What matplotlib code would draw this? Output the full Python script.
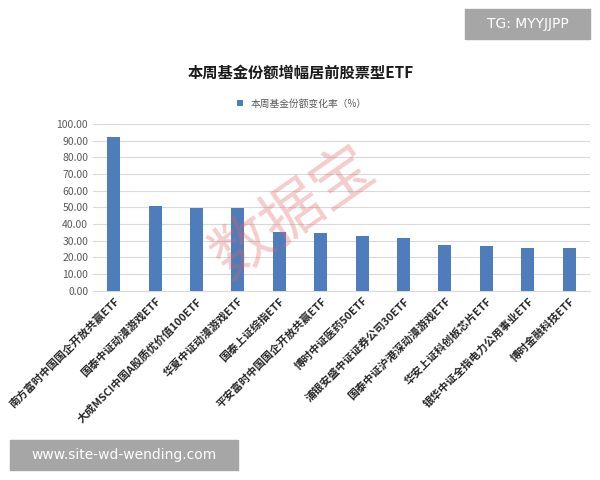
import numpy as np
import matplotlib.pyplot as plt
from matplotlib.patches import Rectangle

plt.rcParams['font.family'] = ['Noto Sans CJK SC', 'DejaVu Sans']

# 本周基金份额变化率 (%)
funds = ['南方富时中国国企开放共赢ETF', '国泰中证动漫游戏ETF', '大成MSCI中国A股质优价值100ETF',
         '华夏中证动漫游戏ETF', '国泰上证综指ETF', '平安富时中国国企开放共赢ETF',
         '博时中证医药50ETF', '浦银安盛中证证券公司30ETF', '国泰中证沪港深动漫游戏ETF',
         '华安上证科创板芯片ETF', '银华中证全指电力公用事业ETF', '博时金融科技ETF']
change = [92.2, 51.0, 49.8, 49.4, 35.4, 34.5, 32.6, 31.9, 27.4, 27.0, 25.6, 25.5]
yticks = np.arange(0, 101, 10)

fig = plt.figure(figsize=(6, 4.8), dpi=100)
ax = fig.add_axes([0.155, 0.394, 0.828, 0.348])

x = np.arange(len(funds))
ax.bar(x, change, width=0.31, color='#4f7cba', zorder=3, label='本周基金份额变化率（%）')

ax.set_ylim(0, 100)
ax.set_xlim(-0.5, len(funds) - 0.5)
ax.set_yticks(yticks)
ax.set_yticklabels(['%.2f' % v for v in yticks], fontsize=7.5, color='#595959')
ax.yaxis.grid(True, color='#d9d9d9', linewidth=0.8, zorder=0)
ax.tick_params(axis='both', length=0)
for s in ['top', 'right', 'left']:
    ax.spines[s].set_visible(False)
ax.spines['bottom'].set_color('#d9d9d9')

ax.set_xticks(x)
ax.set_xticklabels(funds, rotation=45, ha='right', rotation_mode='anchor',
                   fontsize=7.8, fontweight='bold', color='#262626')

fig.text(0.502, 0.848, '本周基金份额增幅居前股票型ETF', ha='center', va='center',
         fontsize=11, fontweight='bold', color='#1a1a1a')
ax.legend(loc='lower center', bbox_to_anchor=(0.42, 1.04), frameon=False,
          fontsize=7, handlelength=0.6, handleheight=0.6, labelcolor='#595959')

# watermark
fig.text(0.49, 0.555, '数据宝', ha='center', va='center', rotation=35,
         fontsize=44, color='#e06060', alpha=0.32)

# corner tags
fig.patches.append(Rectangle((0.775, 0.918), 0.208, 0.063, transform=fig.transFigure,
                             color='#a6a6a6', zorder=5))
fig.text(0.879, 0.95, 'TG: MYYJJPP', ha='center', va='center', fontsize=10,
         color='white', family='DejaVu Sans', zorder=6)
fig.patches.append(Rectangle((0.017, 0.021), 0.38, 0.063, transform=fig.transFigure,
                             color='#a6a6a6', zorder=5))
fig.text(0.207, 0.053, 'www.site-wd-wending.com', ha='center', va='center', fontsize=10,
         color='white', family='DejaVu Sans', zorder=6)

fig.savefig('out.png', dpi=100)
